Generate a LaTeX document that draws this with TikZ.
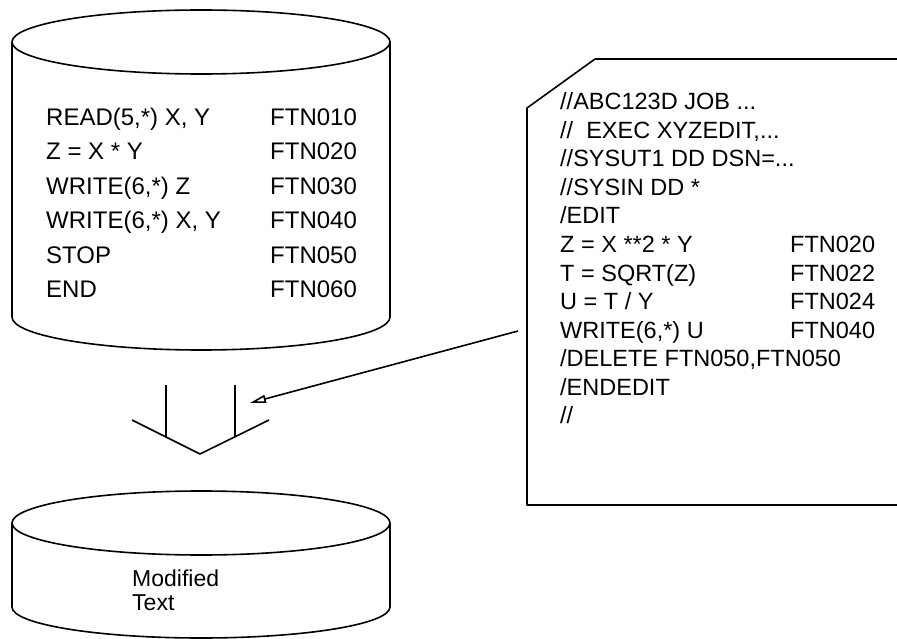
\documentclass[tikz,border=0pt]{standalone}
\usepackage{fontspec}
\setmainfont{Liberation Sans}
\usetikzlibrary{arrows.meta}
\begin{document}
\begin{tikzpicture}[x=1pt,y=-1pt,
  line/.style={line width=1.6pt,line join=round},
  bigtxt/.style={inner sep=0pt,anchor=base west,font=\fontsize{24}{28}\selectfont},
  jcltxt/.style={inner sep=0pt,anchor=base west,font=\fontsize{23.5}{25}\selectfont},
  modtxt/.style={inner sep=0pt,anchor=north west,align=left,font=\fontsize{23}{24}\selectfont}]
\useasboundingbox (0,0) rectangle (897,639);
% ---- source cylinder
\coordinate (c1tl) at (12,42);
\coordinate (c1tr) at (390,42);
\coordinate (c1bl) at (12,317);
\coordinate (c1br) at (390,317);
\draw[line] (201,42) ellipse [x radius=189pt,y radius=32pt];
\draw[line] (c1tl) -- (c1bl) arc[start angle=180,end angle=360,x radius=189pt,y radius=33pt] -- (c1tr);
\node[bigtxt] (l1) at (46,125.5) {READ(5,*) X, Y};
\node[bigtxt] (l2) at (46,159.9) {Z = X * Y};
\node[bigtxt] (l3) at (46,194.3) {WRITE(6,*) Z};
\node[bigtxt] (l4) at (46,228.7) {WRITE(6,*) X, Y};
\node[bigtxt] (l5) at (46,263.1) {STOP};
\node[bigtxt] (l6) at (46,297.5) {END};
\node[bigtxt] (f1) at (270,125.5) {FTN010};
\node[bigtxt] (f2) at (270,159.9) {FTN020};
\node[bigtxt] (f3) at (270,194.3) {FTN030};
\node[bigtxt] (f4) at (270,228.7) {FTN040};
\node[bigtxt] (f5) at (270,263.1) {FTN050};
\node[bigtxt] (f6) at (270,297.5) {FTN060};
% ---- JCL card
\coordinate (bxtr) at (897,59);
\coordinate (bxtc) at (595,59);
\coordinate (bxdl) at (527,108);
\coordinate (bxbl) at (527,505);
\coordinate (bxbr) at (897,505);
\draw[line] (bxtr) -- (bxtc) -- (bxdl) -- (bxbl) -- (bxbr);
\node[jcltxt] (j1) at (560,110) {//ABC123D JOB ...};
\node[jcltxt] (j2) at (560,138.5) {//\ \ EXEC XYZEDIT,...};
\node[jcltxt] (j3) at (560,167) {//SYSUT1 DD DSN=...};
\node[jcltxt] (j4) at (560,195.5) {//SYSIN DD *};
\node[jcltxt] (j5) at (560,224) {/EDIT};
\node[jcltxt] (j6) at (560,252.5) {Z = X **2 * Y};
\node[jcltxt] (j7) at (560,281) {T = SQRT(Z)};
\node[jcltxt] (j8) at (560,309.5) {U = T / Y};
\node[jcltxt] (j9) at (560,338) {WRITE(6,*) U};
\node[jcltxt] (j10) at (560,366.5) {/DELETE FTN050,FTN050};
\node[jcltxt] (j11) at (560,395) {/ENDEDIT};
\node[jcltxt] (j12) at (560,423.5) {//};
\node[jcltxt] (g6) at (790,252.5) {FTN020};
\node[jcltxt] (g7) at (790,281) {FTN022};
\node[jcltxt] (g8) at (790,309.5) {FTN024};
\node[jcltxt] (g9) at (790,338) {FTN040};
% ---- merge symbol
\coordinate (v1t) at (166,385);
\coordinate (v1b) at (166,437);
\coordinate (v2t) at (235,385);
\coordinate (v2b) at (235,437);
\coordinate (vl) at (132,420);
\coordinate (vm) at (200,454);
\coordinate (vr) at (269,420);
\draw[line] (v1t) -- (v1b);
\draw[line] (v2t) -- (v2b);
\draw[line] (vl) -- (vm) -- (vr);
% ---- arrow
\coordinate (as) at (518,331);
\coordinate (ae) at (250,403);
\draw[line,-{Triangle[open,length=16pt,width=8pt]}] (as) -- (ae);
% ---- result cylinder
\coordinate (c2tl) at (12,523);
\coordinate (c2tr) at (390,523);
\coordinate (c2bl) at (12,607);
\coordinate (c2br) at (390,607);
\draw[line] (201,523) ellipse [x radius=189pt,y radius=32pt];
\draw[line] (c2tl) -- (c2bl) arc[start angle=180,end angle=360,x radius=189pt,y radius=31pt] -- (c2tr);
\node[modtxt] (mt) at (132,570) {Modified\\Text};
\end{tikzpicture}
\end{document}
